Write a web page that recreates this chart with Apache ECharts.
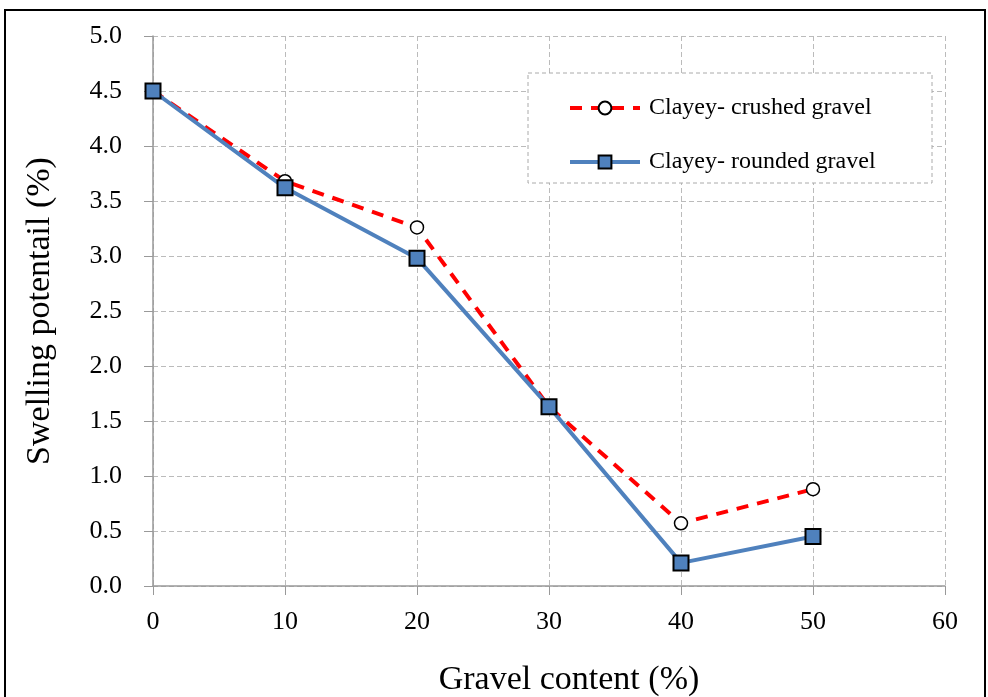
<!DOCTYPE html>
<html><head><meta charset="utf-8">
<script src="https://cdn.jsdelivr.net/npm/echarts@6/dist/echarts.min.js"></script>
<style>html,body{margin:0;padding:0;background:#fff}#c{width:988px;height:697px}</style>
</head><body><div id="c"></div>
<script>
const gravel = [0, 10, 20, 30, 40, 50];
const crushed = [4.5, 3.68, 3.26, 1.63, 0.57, 0.88];
const rounded = [4.5, 3.62, 2.98, 1.63, 0.21, 0.45];
const seriesNames = ['Clayey- crushed gravel', 'Clayey- rounded gravel'];
const xTitle = 'Gravel content (%)';
const yTitle = 'Swelling potentail (%)';

const font = 'Liberation Serif';
const chart = echarts.init(document.getElementById('c'));
chart.setOption({
  animation: false,
  backgroundColor: '#fff',
  grid: {left: 153, right: 43, top: 36, bottom: 111, containLabel: false, outerBoundsMode: 'none'},
  graphic: [
    {type: 'rect', shape: {x: 5, y: 10, width: 980, height: 700}, style: {fill: 'none', stroke: '#000', lineWidth: 2}, z: 100},
    {type: 'rect', shape: {x: 528, y: 73, width: 404, height: 110}, style: {fill: '#fff', stroke: '#aaa', lineWidth: 1, lineDash: [4, 3]}, z: 5}
  ],
  legend: {
    orient: 'vertical', left: 563, top: 91, itemWidth: 70, itemHeight: 16, itemGap: 30,
    textStyle: {fontFamily: font, fontSize: 24, color: '#000', lineHeight: 24, padding: [0, 0, 0, 4]},
    data: [
      {name: seriesNames[0], lineStyle: {width: 4, type: [12, 9]}},
      {name: seriesNames[1], lineStyle: {width: 4}}
    ], z: 10
  },
  xAxis: {
    type: 'value', min: 0, max: 60, interval: 10,
    name: xTitle, nameLocation: 'middle', nameGap: 77,
    nameTextStyle: {fontFamily: font, fontSize: 34, color: '#000', padding: [0, 0, 0, 40]},
    axisLine: {onZero: false, lineStyle: {color: '#999', width: 1.5}},
    axisTick: {show: true, length: 9, inside: false, lineStyle: {color: '#999'}},
    axisLabel: {fontFamily: font, fontSize: 26, color: '#000', margin: 23},
    splitLine: {show: true, lineStyle: {color: '#bbb', type: [5, 3]}}
  },
  yAxis: {
    type: 'value', min: 0, max: 5, interval: 0.5,
    name: yTitle, nameLocation: 'middle', nameGap: 96,
    nameTextStyle: {fontFamily: font, fontSize: 34, color: '#000'},
    axisLine: {show: true, lineStyle: {color: '#999', width: 1.5}},
    axisTick: {show: true, length: 9, lineStyle: {color: '#999'}},
    axisLabel: {fontFamily: font, fontSize: 26, color: '#000', margin: 31, formatter: v => v.toFixed(1)},
    splitLine: {show: true, lineStyle: {color: '#bbb', type: [5, 3]}}
  },
  series: [
    {
      name: seriesNames[0], type: 'line', data: gravel.map((g, i) => [g, crushed[i]]),
      symbol: 'circle', symbolSize: 13,
      lineStyle: {color: '#ff0000', width: 4, type: [12, 9]},
      itemStyle: {color: '#fff', borderColor: '#000', borderWidth: 1.5},
      z: 3
    },
    {
      name: seriesNames[1], type: 'line', data: gravel.map((g, i) => [g, rounded[i]]),
      symbol: 'rect', symbolSize: 15,
      lineStyle: {color: '#4F81BD', width: 4},
      itemStyle: {color: '#4F81BD', borderColor: '#000', borderWidth: 2},
      z: 4
    }
  ]
});
</script></body></html>
